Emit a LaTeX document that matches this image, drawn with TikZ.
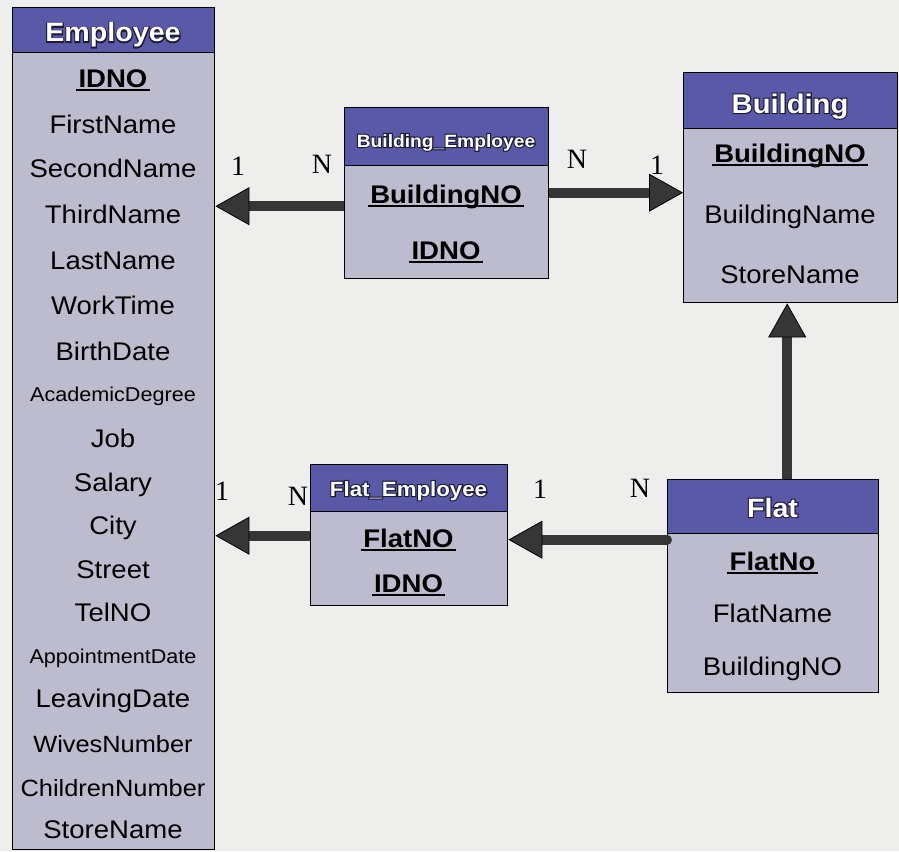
\documentclass[tikz,border=0pt]{standalone}
\usepackage{fontspec}
\setmainfont{Liberation Sans}[FakeStretch=1.08]
\newfontfamily\cardfont{Liberation Serif}
\usetikzlibrary{arrows.meta}

\definecolor{paper}{HTML}{EEEEEC}
\definecolor{hdrblue}{HTML}{5A59A8}
\definecolor{bodylav}{HTML}{BDBCCF}
\definecolor{arrgray}{HTML}{363636}

% field fonts
\newcommand\fieldfont{\fontsize{25.5}{30}\selectfont}
\newcommand\midfield{\fontsize{23.5}{28}\selectfont}
\newcommand\smallfield{\fontsize{20}{24}\selectfont}
\newcommand\cardsize{\fontsize{28}{32}\selectfont\cardfont}

% primary-key field: text with a thick rule under it
\newcommand\keyf[1]{\setbox0=\hbox{#1}\rlap{\kern-2.5pt\rule[-4pt]{\dimexpr\wd0+5pt\relax}{2pt}}\copy0}

% white title over a dark stroked copy of itself (PDF text render modes 1 and 0)
\newcommand\outlined[2]{\fontsize{#1}{#1}\selectfont\bfseries
  \rlap{\special{pdf:literal direct 0.11 0.11 0.22 RG 1 Tr 2.2 w}#2\special{pdf:literal direct 0 Tr}}#2}

\begin{document}
\begin{tikzpicture}[x=1pt,y=-1pt,
  hdr/.style={draw=black, line width=1.4pt, fill=hdrblue, anchor=north west, inner sep=0pt},
  bodybox/.style={draw=black, line width=1.4pt, fill=bodylav, anchor=north west, inner sep=0pt},
  ttl/.style={anchor=base, inner sep=0pt, text=white},
  fld/.style={anchor=base, inner sep=0pt, font=\fieldfont},
  card/.style={anchor=base, inner sep=0pt, font=\cardsize},
  arr/.style={line width=10pt, draw=arrgray,
    -{Triangle[length=34pt,width=38pt,line width=0.8pt,fill=arrgray,color=black]}}]

\useasboundingbox (0,0) rectangle (899,851);
\fill[paper] (0,0) rectangle (899,851);

% ---------- Employee ----------
\node[hdr, minimum width=202pt, minimum height=45pt] (emp-h) at (12,7) {};
\node[bodybox, minimum width=202pt, minimum height=797pt] (emp) at (12,52) {};
\node[ttl] (emp-t) at (113,42) {\outlined{26.5}{Employee}};
\node[fld] (e1) at (113,87) {\keyf{\bfseries IDNO}};
\node[fld] (e2) at (113,133) {FirstName};
\node[fld] (e3) at (113,177) {SecondName};
\node[fld] (e4) at (113,223) {ThirdName};
\node[fld] (e5) at (113,269) {LastName};
\node[fld] (e6) at (113,314) {WorkTime};
\node[fld] (e7) at (113,360) {BirthDate};
\node[fld, font=\smallfield] (e8) at (113,401) {AcademicDegree};
\node[fld] (e9) at (113,447) {Job};
\node[fld] (e10) at (113,491) {Salary};
\node[fld] (e11) at (113,534) {City};
\node[fld] (e12) at (113,578) {Street};
\node[fld] (e13) at (113,621) {TelNO};
\node[fld, font=\smallfield] (e14) at (113,663) {AppointmentDate};
\node[fld] (e15) at (113,707) {LeavingDate};
\node[fld, font=\midfield] (e16) at (113,752) {WivesNumber};
\node[fld, font=\midfield] (e17) at (113,796) {ChildrenNumber};
\node[fld] (e18) at (113,838) {StoreName};

% ---------- Building_Employee ----------
\node[hdr, minimum width=204pt, minimum height=58pt] (be-h) at (344,107) {};
\node[bodybox, minimum width=204pt, minimum height=113pt] (be) at (344,165) {};
\node[ttl] (be-t) at (446,147) {\outlined{17.8}{Building\_Employee}};
\node[fld] (be1) at (446,203) {\keyf{\bfseries BuildingNO}};
\node[fld] (be2) at (446,259) {\keyf{\bfseries IDNO}};

% ---------- Building ----------
\node[hdr, minimum width=214pt, minimum height=56pt] (bd-h) at (683,72) {};
\node[bodybox, minimum width=214pt, minimum height=174pt] (bd) at (683,128) {};
\node[ttl] (bd-t) at (790,113) {\outlined{27}{Building}};
\node[fld] (bd1) at (790,162) {\keyf{\bfseries BuildingNO}};
\node[fld] (bd2) at (790,223) {BuildingName};
\node[fld] (bd3) at (790,283) {StoreName};

% ---------- Flat_Employee ----------
\node[hdr, minimum width=197pt, minimum height=47pt] (fe-h) at (310,464) {};
\node[bodybox, minimum width=197pt, minimum height=94pt] (fe) at (310,511) {};
\node[ttl] (fe-t) at (408.5,496) {\outlined{20.6}{Flat\_Employee}};
\node[fld] (fe1) at (408.5,547) {\keyf{\bfseries FlatNO}};
\node[fld] (fe2) at (408.5,592) {\keyf{\bfseries IDNO}};

% ---------- Flat ----------
\node[hdr, minimum width=211pt, minimum height=54pt] (fl-h) at (667,479) {};
\node[bodybox, minimum width=211pt, minimum height=159pt] (fl) at (667,533) {};
\node[ttl] (fl-t) at (772.5,517) {\outlined{26.5}{Flat}};
\node[fld] (fl1) at (772.5,570) {\keyf{\bfseries FlatNo}};
\node[fld] (fl2) at (772.5,622) {FlatName};
\node[fld] (fl3) at (772.5,675) {BuildingNO};

% ---------- cardinalities ----------
\node[card] (c1) at (238,175) {1};
\node[card] (c2) at (322,173) {N};
\node[card] (c3) at (577,168) {N};
\node[card] (c4) at (657,174) {1};
\node[card] (c5) at (222,500) {1};
\node[card] (c6) at (298,505) {N};
\node[card] (c7) at (540,498) {1};
\node[card] (c8) at (640,497) {N};

% ---------- relationships ----------
\coordinate (a1) at ([yshift=16pt]be.west);
\draw[arr] (a1) -- (emp.east |- a1);
\coordinate (a2) at ([yshift=29.5pt]be.east);
\draw[arr] (a2) -- (bd.west |- a2);
\coordinate (a3) at ([xshift=14pt]fl-h.north);
\draw[arr] (a3) -- (a3 |- bd.south);
\coordinate (a4) at ([yshift=73.5pt]fl.west);
\draw[arr, line cap=round] (a4) -- (fe.east |- a4);
\coordinate (a5) at ([yshift=23pt]fe.west);
\draw[arr] (a5) -- (emp.east |- a5);
\end{tikzpicture}
\end{document}
